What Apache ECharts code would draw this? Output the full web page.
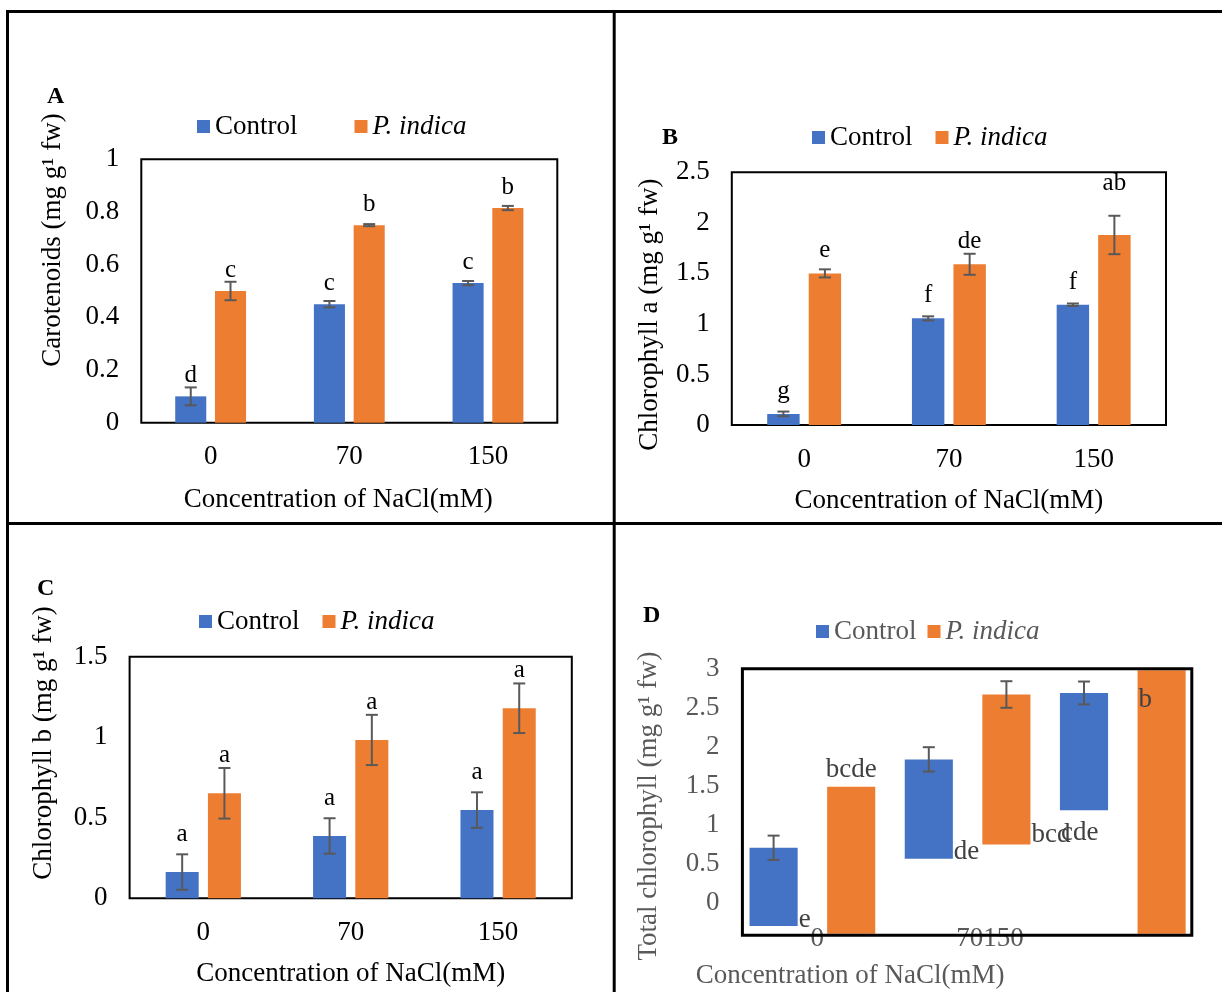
<!DOCTYPE html>
<html><head><meta charset="utf-8">
<script src="https://cdn.jsdelivr.net/npm/echarts@6/dist/echarts.min.js"></script>
<style>html,body{margin:0;padding:0;background:#fff}#c{width:1222px;height:992px}</style>
</head><body><div id="c"></div>
<script>
// ---------- DATA ----------
const categories = ['0', '70', '150'];
const seriesNames = ['Control', 'P. indica'];
const xTitle = 'Concentration of NaCl(mM)';

// A: Carotenoids
const carControl = [0.10, 0.45, 0.53];
const carIndica = [0.50, 0.75, 0.815];
const carControlErr = [0.034, 0.012, 0.008];
const carIndicaErr = [0.035, 0.004, 0.008];
const carControlLetters = ['d', 'c', 'c'];
const carIndicaLetters = ['c', 'b', 'b'];

// B: Chlorophyll a
const chlAControl = [0.11, 1.055, 1.19];
const chlAIndica = [1.50, 1.59, 1.88];
const chlAControlErr = [0.023, 0.02, 0.012];
const chlAIndicaErr = [0.04, 0.104, 0.19];
const chlAControlLetters = ['g', 'f', 'f'];
const chlAIndicaLetters = ['e', 'de', 'ab'];

// C: Chlorophyll b
const chlBControl = [0.163, 0.387, 0.548];
const chlBIndica = [0.652, 0.983, 1.18];
const chlBControlErr = [0.11, 0.11, 0.11];
const chlBIndicaErr = [0.157, 0.156, 0.154];
const chlBControlLetters = ['a', 'a', 'a'];
const chlBIndicaLetters = ['a', 'a', 'a'];

// D: Total chlorophyll (floating bars as rendered in the figure)
const totControlTop = [0.71, 1.84, 2.69];
const totControlBottom = [-0.29, 0.57, 1.19];
const totControlErr = [0.155, 0.156, 0.146];
const totIndicaTop = [1.49, 2.67, 3.4];
const totIndicaBottom = [-0.6, 0.75, -0.6];
const totIndicaErr = [null, 0.17, null];
const totControlLetters = ['e', 'de', 'cde'];
const totIndicaLetters = ['bcde', 'bcd', 'b'];
const tickLabelsD_x = ['0', '70150', ''];
const tickLabelsD_y = [0, 0.5, 1, 1.5, 2, 2.5, 3];

// ---------- STYLE / LAYOUT ----------
const FONT = '"Liberation Serif", "Times New Roman", serif';
const FS = 27;
const BLUE = '#4472C4', ORANGE = '#ED7D31', ERR = '#595959', GREY = '#595959';
const BW = 0.224, GAP = 0.28;
const OFF = BW * (1 + GAP) / 2;

// D label placement: [horizontal mode, vertical anchor value]
const dLabelLayoutControl = [['right', -0.214], ['right', 0.662], ['left', 0.905]];
const dLabelLayoutIndica = [['center', 1.703], ['right', 0.876], ['left', 2.606]];

const panels = [
  {grid: {left: 141.3, top: 159.3, width: 416, height: 263.4}, yName: 'Carotenoids (mg g¹ fw)',
   max: 1, interval: 0.2, yNameGap: 75, yPad: [0, 0, 0, 102], xNameGap: 64, xPad: [0, 22, 0, 0],
   c: carControl, p: carIndica, ce: carControlErr, pe: carIndicaErr, cl: carControlLetters, pl: carIndicaLetters,
   dist: 8, extra: {}},
  {grid: {left: 731.8, top: 172.3, width: 434.2, height: 252.7}, yName: 'Chlorophyll a (mg g¹ fw)',
   max: 2.5, interval: 0.5, yNameGap: 68, yPad: [0, 32, 0, 0], xNameGap: 62, xPad: [0, 0, 0, 0],
   c: chlAControl, p: chlAIndica, ce: chlAControlErr, pe: chlAIndicaErr, cl: chlAControlLetters, pl: chlAIndicaLetters,
   dist: 10, extra: {2: -29}},
  {grid: {left: 129.6, top: 656.7, width: 442.2, height: 241.6}, yName: 'Chlorophyll b (mg g¹ fw)',
   max: 1.5, interval: 0.5, yNameGap: 72, yPad: [0, 0, 0, 69], xNameGap: 62, xPad: [0, 0, 0, 0],
   c: chlBControl, p: chlBIndica, ce: chlBControlErr, pe: chlBIndicaErr, cl: chlBControlLetters, pl: chlBIndicaLetters,
   dist: 25, extra: {}}
];

function errRender(side) {
  return function (params, api) {
    const cat = api.value(0), v = api.value(1), e = api.value(2);
    if (e == null || isNaN(e)) return;
    const band = api.size([1, 0])[0];
    const x = api.coord([cat, v])[0] + side * OFF * band;
    const y1 = api.coord([cat, v + e])[1], y2 = api.coord([cat, v - e])[1];
    const cap = 6, st = {stroke: ERR, lineWidth: 2};
    return {type: 'group', children: [
      {type: 'line', shape: {x1: x, y1: y1, x2: x, y2: y2}, style: st},
      {type: 'line', shape: {x1: x - cap, y1: y1, x2: x + cap, y2: y1}, style: st},
      {type: 'line', shape: {x1: x - cap, y1: y2, x2: x + cap, y2: y2}, style: st}
    ]};
  };
}

const grids = [], xAxes = [], yAxes = [], series = [];
panels.forEach((P, k) => {
  grids.push(Object.assign({show: true, borderColor: '#000', borderWidth: 2, backgroundColor: 'transparent', containLabel: false, outerBoundsMode: 'none'}, P.grid));
  xAxes.push({type: 'category', gridIndex: k, data: categories,
    axisLine: {show: false}, axisTick: {show: false}, splitLine: {show: false},
    axisLabel: {fontSize: FS, fontFamily: FONT, color: '#000', margin: 21},
    name: xTitle, nameLocation: 'middle', nameGap: P.xNameGap, nameMoveOverlap: false,
    nameTextStyle: {fontSize: FS, fontFamily: FONT, color: '#000', padding: P.xPad}});
  yAxes.push({type: 'value', gridIndex: k, min: 0, max: P.max, interval: P.interval,
    axisLine: {show: false}, axisTick: {show: false}, splitLine: {show: false},
    axisLabel: {fontSize: FS, fontFamily: FONT, color: '#000', margin: 22},
    name: P.yName, nameLocation: 'middle', nameRotate: 90, nameGap: P.yNameGap, nameMoveOverlap: false,
    nameTextStyle: {fontSize: FS, fontFamily: FONT, color: '#000', padding: P.yPad}});
  [[P.c, P.ce, P.cl, BLUE, seriesNames[0], -1], [P.p, P.pe, P.pl, ORANGE, seriesNames[1], 1]].forEach(([vals, errs, letters, col, nm, side], s) => {
    series.push({type: 'bar', name: nm, xAxisIndex: k, yAxisIndex: k,
      data: vals.map((v, i) => (s === 1 && P.extra[i]) ? {value: v, label: {offset: [0, P.extra[i]]}} : v),
      barWidth: (BW * 100) + '%', barGap: (GAP * 100) + '%',
      itemStyle: {color: col},
      label: {show: true, position: 'top', distance: P.dist, fontSize: 25, fontFamily: FONT, color: '#000',
        formatter: p => letters[p.dataIndex]}});
    series.push({type: 'custom', name: 'err' + k + s, xAxisIndex: k, yAxisIndex: k, z: 5, silent: true,
      data: vals.map((v, i) => [i, v, errs[i]]), encode: {x: 0, y: 1}, renderItem: errRender(side)});
  });
});

// Panel D
grids.push({show: true, borderColor: '#000', borderWidth: 3, left: 742.4, top: 668.7, width: 449.4, height: 266.6, z: 3, outerBoundsMode: 'none'});
grids.push({show: false, left: 734.8, top: 668.7, width: 465.6, height: 266.6, outerBoundsMode: 'none'});
xAxes.push({type: 'category', gridIndex: 3, data: tickLabelsD_x,
  axisLine: {show: false}, axisTick: {show: false}, splitLine: {show: false},
  axisLabel: {fontSize: FS, fontFamily: FONT, color: GREY, margin: -10,
    formatter: v => v === '70150' ? '{s|' + v + '}' : v,
    rich: {s: {fontSize: FS, fontFamily: FONT, color: GREY, padding: [0, 0, 0, 46]}}},
  name: xTitle, nameLocation: 'middle', nameGap: 27, nameMoveOverlap: false,
  nameTextStyle: {fontSize: FS, fontFamily: FONT, color: GREY, padding: [0, 234, 0, 0]}});
xAxes.push({type: 'category', gridIndex: 4, data: [0, 1, 2, 3, 4, 5], show: false});
yAxes.push({type: 'value', gridIndex: 3, min: -0.41, max: 3,
  axisLine: {show: false}, axisTick: {show: false}, splitLine: {show: false},
  axisLabel: {fontSize: FS, fontFamily: FONT, color: GREY, margin: 23, customValues: tickLabelsD_y},
  name: 'Total chlorophyll (mg g¹ fw)', nameLocation: 'middle', nameRotate: 90, nameGap: 80, nameMoveOverlap: false,
  nameTextStyle: {fontSize: FS, fontFamily: FONT, color: GREY, padding: [0, 8, 0, 0]}});
yAxes.push({type: 'value', gridIndex: 4, min: -0.41, max: 3, show: false});

function dRender(col, letters, layout) {
  return function (params, api) {
    const i = params.dataIndex;
    const slot = api.value(0), bot = api.value(1), top = api.value(2), e = api.value(3);
    const band = api.size([1, 0])[0];
    const w = band * 0.62;
    const pT = api.coord([slot, top]), pB = api.coord([slot, bot]);
    const cs = params.coordSys;
    const rect = echarts.graphic.clipRectByRect(
      {x: pT[0] - w / 2, y: pT[1], width: w, height: pB[1] - pT[1]},
      {x: cs.x, y: cs.y + 1.5, width: cs.width, height: cs.height - 3});
    const children = [];
    if (rect) children.push({type: 'rect', shape: rect, style: {fill: col}});
    if (e != null && !isNaN(e)) {
      const y1 = api.coord([slot, top + e])[1], y2 = api.coord([slot, top - e])[1];
      const x = pT[0], cap = 6, st = {stroke: ERR, lineWidth: 2};
      children.push({type: 'line', shape: {x1: x, y1: y1, x2: x, y2: y2}, style: st});
      children.push({type: 'line', shape: {x1: x - cap, y1: y1, x2: x + cap, y2: y1}, style: st});
      children.push({type: 'line', shape: {x1: x - cap, y1: y2, x2: x + cap, y2: y2}, style: st});
    }
    const [mode, anchor] = layout[i];
    const ty = api.coord([slot, anchor])[1];
    let tx = pT[0], align = 'center';
    if (mode === 'right') { tx = pT[0] + w / 2 + 1; align = 'left'; }
    if (mode === 'left') { tx = pT[0] - w / 2 + 1; align = 'left'; }
    children.push({type: 'text', z2: 10, style: {text: letters[i], x: tx, y: ty, align: align, verticalAlign: 'middle',
      fontSize: 27, fontFamily: FONT, fill: '#404040'}});
    return {type: 'group', children: children};
  };
}
series.push({type: 'custom', name: seriesNames[0], xAxisIndex: 4, yAxisIndex: 4, z: 2, itemStyle: {color: BLUE},
  data: totControlTop.map((t, i) => [2 * i, totControlBottom[i], t, totControlErr[i]]), encode: {x: 0, y: [1, 2]},
  renderItem: dRender(BLUE, totControlLetters, dLabelLayoutControl)});
series.push({type: 'custom', name: seriesNames[1], xAxisIndex: 4, yAxisIndex: 4, z: 2, itemStyle: {color: ORANGE},
  data: totIndicaTop.map((t, i) => [2 * i + 1, totIndicaBottom[i], t, totIndicaErr[i]]), encode: {x: 0, y: [1, 2]},
  renderItem: dRender(ORANGE, totIndicaLetters, dLabelLayoutIndica)});

function legendAt(left, top, gap, color) {
  return {left: left, top: top, itemGap: gap, itemWidth: 13, itemHeight: 13, padding: 0, selectedMode: false,
    textStyle: {fontSize: FS, fontFamily: FONT, color: color, lineHeight: 27},
    data: [{name: seriesNames[0], icon: 'rect'}, {name: seriesNames[1], icon: 'rect', textStyle: {fontStyle: 'italic'}}]};
}
function letterTitle(t, left, top) {
  return {text: t, left: left, top: top, padding: 0,
    textStyle: {fontSize: 24, fontWeight: 'bold', fontFamily: FONT, color: '#000'}};
}
const frame = {stroke: null, fill: '#000'};

const chart = echarts.init(document.getElementById('c'), null, {renderer: 'canvas'});
chart.setOption({
  animation: false,
  backgroundColor: '#fff',
  title: [letterTitle('A', 47, 85), letterTitle('B', 662, 126), letterTitle('C', 37, 577), letterTitle('D', 643, 604)],
  legend: [legendAt(197, 113, 57, '#000'), legendAt(812, 124, 23, '#000'), legendAt(199, 608, 23, '#000'), legendAt(816, 618, 11, GREY)],
  grid: grids, xAxis: xAxes, yAxis: yAxes, series: series,
  graphic: [
    {type: 'rect', shape: {x: 6, y: 10, width: 1216, height: 3}, style: frame, silent: true},
    {type: 'rect', shape: {x: 6, y: 10, width: 3, height: 982}, style: frame, silent: true},
    {type: 'rect', shape: {x: 612.7, y: 10, width: 3, height: 982}, style: frame, silent: true},
    {type: 'rect', shape: {x: 6, y: 522, width: 1216, height: 3}, style: frame, silent: true}
  ]
});
</script></body></html>
